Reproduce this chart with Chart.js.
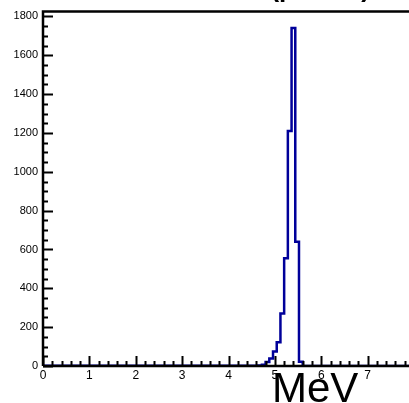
<!DOCTYPE html>
<html>
<head>
<meta charset="utf-8">
<script src="https://cdn.jsdelivr.net/npm/chart.js@4"></script>
<style>
    html, body { margin: 0; padding: 0; background: #fff; overflow: hidden; }
    #wrap { position: absolute; left: 0; top: 0; width: 420px; height: 403px; }
</style>
</head>
<body>
<div id="wrap"><canvas id="hist" width="420" height="403"></canvas></div>
<script>
// histogram bin low edges (MeV) and counts, last edge closes the range
const binEdges = [0, 4.64, 4.72, 4.80, 4.88, 4.96, 5.04, 5.12, 5.20, 5.28, 5.36, 5.44, 5.52, 5.60, 5.68, 8];
const binCounts = [0, 1, 3, 6, 20, 38, 75, 122, 270, 555, 1210, 1740, 640, 22, 0, 0];
const xTicks = [0, 1, 2, 3, 4, 5, 6, 7, 8];
const yTicks = [0, 200, 400, 600, 800, 1000, 1200, 1400, 1600, 1800];

const points = binEdges.map((e, i) => ({x: e, y: binCounts[i]}));

// inward ROOT-style ticks + frame + overlay texts
const rootAxes = {
    id: 'rootAxes',
    afterDraw(chart) {
        const ctx = chart.ctx;
        const xs = chart.scales.x, ys = chart.scales.y;
        const area = chart.chartArea;
        ctx.save();
        ctx.strokeStyle = '#000';
        ctx.lineWidth = 2;
        ctx.beginPath();
        for (let v = 0; v <= 1800; v += 50) {
            const y = Math.round(ys.getPixelForValue(v)) + 0.5;
            const len = v % 200 === 0 ? 10 : 5;
            ctx.moveTo(area.left, y);
            ctx.lineTo(area.left + len, y);
        }
        for (let i = 0; i <= 40; i++) {
            const x = Math.round(xs.getPixelForValue(i * 0.2)) + 0.5;
            const len = i % 5 === 0 ? 10 : 5;
            ctx.moveTo(x, area.bottom);
            ctx.lineTo(x, area.bottom - len);
        }
        ctx.stroke();

        // frame
        ctx.lineWidth = 2.5;
        ctx.beginPath();
        ctx.moveTo(area.left, area.bottom);
        ctx.lineTo(area.left, area.top);
        ctx.lineTo(area.right + 10, area.top);
        ctx.moveTo(area.left, area.bottom);
        ctx.lineTo(area.right + 10, area.bottom);
        ctx.stroke();

        // clipped title at top
        ctx.fillStyle = '#000';
        ctx.font = 'bold 26px "Liberation Sans", Arial, sans-serif';
        ctx.textAlign = 'right';
        ctx.textBaseline = 'alphabetic';
        ctx.fillText('Total E (proton)', 370, -3);

        // big unit label
        ctx.font = '42px "Liberation Sans", Arial, sans-serif';
        ctx.textAlign = 'left';
        ctx.fillText('MeV', 272, 402);
        ctx.restore();
    }
};

new Chart(document.getElementById('hist'), {
    type: 'line',
    data: {
        datasets: [{
            data: points,
            stepped: 'after',
            borderColor: '#00009a',
            borderWidth: 2.5,
            pointRadius: 0,
            fill: false
        }]
    },
    options: {
        responsive: false,
        animation: false,
        layout: {padding: {top: 9, right: 6, left: 0, bottom: 0}},
        plugins: {
            legend: {display: false},
            tooltip: {enabled: false}
        },
        scales: {
            x: {
                type: 'linear',
                min: 0,
                max: 8,
                afterBuildTicks: s => { s.ticks = xTicks.map(v => ({value: v})); },
                afterFit: s => { s.height = 37; },
                grid: {display: false, drawTicks: false, tickLength: 0},
                border: {display: false},
                ticks: {
                    color: '#000',
                    padding: 2,
                    maxRotation: 0,
                    callback: v => String(v),
                    font: {family: '"Liberation Sans", Arial, sans-serif', size: 12}
                }
            },
            y: {
                type: 'linear',
                min: 0,
                max: 1825,
                afterBuildTicks: s => { s.ticks = yTicks.map(v => ({value: v})); },
                afterFit: s => { s.width = 43; },
                grid: {display: false, drawTicks: false, tickLength: 0},
                border: {display: false},
                ticks: {
                    color: '#000',
                    padding: 5,
                    callback: v => String(v),
                    font: {family: '"Liberation Sans", Arial, sans-serif', size: 11}
                }
            }
        }
    },
    plugins: [rootAxes]
});
</script>
</body>
</html>
